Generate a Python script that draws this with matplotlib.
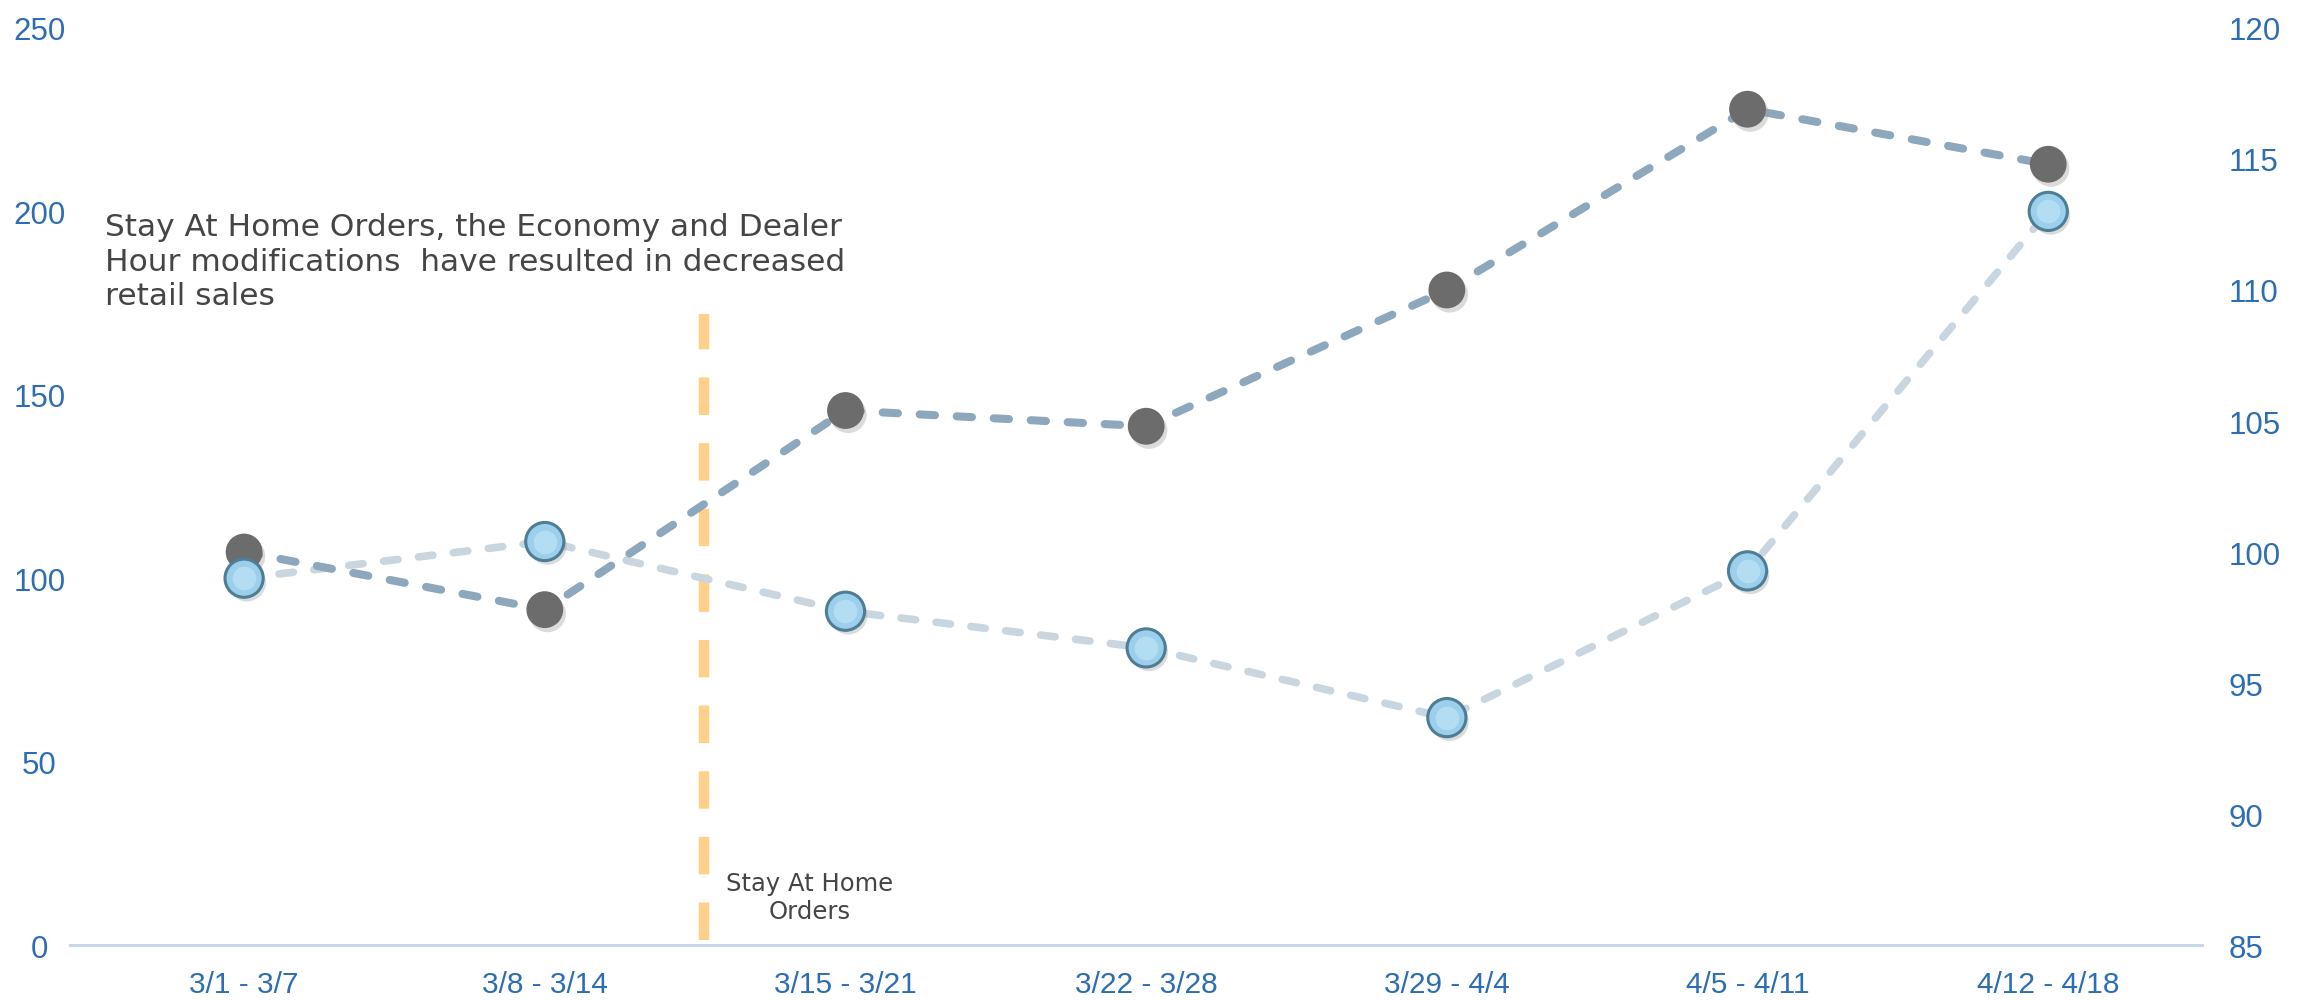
import matplotlib.pyplot as plt
import matplotlib.patheffects as pe

# weekly periods
weeks = ['3/1 - 3/7', '3/8 - 3/14', '3/15 - 3/21', '3/22 - 3/28',
         '3/29 - 4/4', '4/5 - 4/11', '4/12 - 4/18']
# left axis series (light blue markers)
sales_left = [100, 110, 91, 81, 62, 102, 200]
# right axis series (grey markers)
index_right = [100, 97.8, 105.4, 104.8, 110.0, 116.9, 114.8]

left_ticks = [0, 50, 100, 150, 200, 250]
right_ticks = [85, 90, 95, 100, 105, 110, 115, 120]

order_pos = 1.53     # stay at home order marker between week 2 and 3
order_top = 172

note = ('Stay At Home Orders, the Economy and Dealer\n'
        'Hour modifications  have resulted in decreased\n'
        'retail sales')

tick_blue = '#2C6DB4'
txt_font = ['DejaVu Sans']

fig = plt.figure(figsize=(23.1, 10.03), dpi=100)
ax = fig.add_axes([0.0303, 0.0568, 0.9229, 0.9143])
ax2 = ax.twinx()

x = list(range(len(weeks)))

# blue series line (under everything)
ax.plot(x, sales_left, color='#C9D6DF', lw=5.5, dashes=(1.9, 2.7),
        dash_capstyle='round', zorder=2)

# grey series on right axis
shadow = [pe.SimplePatchShadow(offset=(2, -3), shadow_rgbFace='#9A9A9A', alpha=0.35), pe.Normal()]
ax2.plot(x, index_right, color='#8DA7BD', lw=5.8, dashes=(1.9, 2.7),
         dash_capstyle='round', zorder=2)
ax2.plot(x, index_right, ls='none', marker='o', ms=26.5, mfc='#6C6C6C',
         mec='#6C6C6C', mew=0, zorder=3, path_effects=shadow)

# blue markers drawn on top, in left-axis coordinates
ax2.plot(x, sales_left, ls='none', marker='o', ms=27.5, mfc='#9CCFEC',
         mec='#4E7D96', mew=2.2, zorder=4, transform=ax.transData, path_effects=shadow)
ax2.plot(x, sales_left, ls='none', marker='o', ms=17, mfc='#C4E8F8',
         mew=0, alpha=0.6, zorder=5, transform=ax.transData)

# stay at home order line
ax.plot([order_pos, order_pos], [1.5, order_top], color='#FFD08A', lw=7.5,
        dashes=(3.6, 2.7), solid_capstyle='butt', zorder=1)

ax.set_xlim(-0.579, 6.511)
ax.set_ylim(0, 250)
ax2.set_ylim(85, 120)

ax.set_xticks(x)
ax.set_xticklabels(weeks, fontsize=21.5, color=tick_blue, family='Liberation Sans')
ax.set_yticks(left_ticks)
ax.set_yticklabels([str(t) for t in left_ticks], fontsize=22.5, color=tick_blue,
                   family='Liberation Sans', ha='center')
ax2.set_yticks(right_ticks)
ax2.set_yticklabels([str(t) for t in right_ticks], fontsize=22.5, color=tick_blue,
                    family='Liberation Sans')

ax.tick_params(axis='x', length=0, pad=18)
ax.tick_params(axis='y', length=0, pad=22)
ax2.tick_params(axis='y', length=0, pad=19)

for a in (ax, ax2):
    for side in ('top', 'left', 'right', 'bottom'):
        a.spines[side].set_visible(False)
ax.spines['bottom'].set_visible(True)
ax.spines['bottom'].set_color('#C8D7EC')
ax.spines['bottom'].set_linewidth(2.2)

fig.text(105 / 2310, 1 - 213 / 1003, note, fontsize=22.5, color='#454545',
         family=txt_font, va='top', ha='left', linespacing=1.24)
ax.text(1.882, 13, 'Stay At Home\nOrders', fontsize=17.5, color='#454545',
        family=txt_font, ha='center', va='center', multialignment='center',
        linespacing=1.2)

fig.savefig('out.png', dpi=100, facecolor='white')
